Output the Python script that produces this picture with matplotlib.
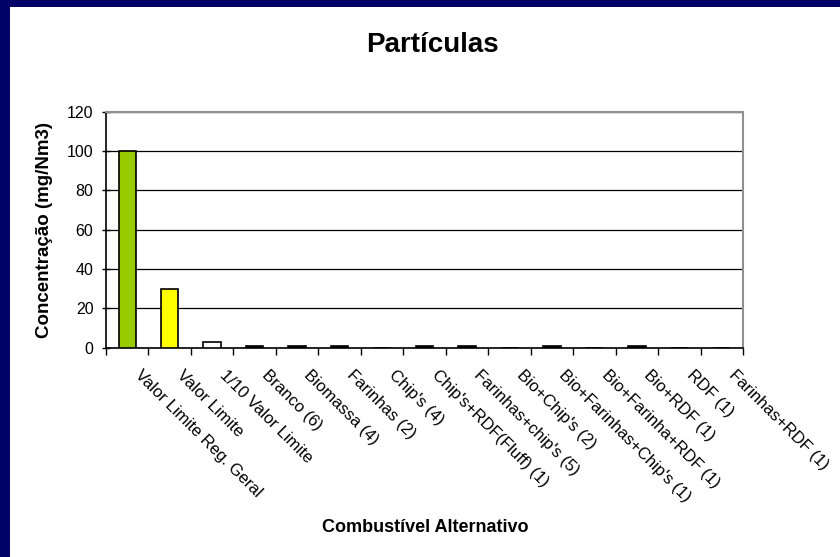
import numpy as np
import matplotlib
matplotlib.use('Agg')
import matplotlib.pyplot as plt
import matplotlib.transforms as mtransforms
from matplotlib.patches import Rectangle

plt.rcParams['font.family'] = ['Liberation Sans', 'DejaVu Sans']

# Partículas por combustível alternativo
categorias = ['Valor Limite Reg. Geral', 'Valor Limite', '1/10 Valor Limite',
              'Branco (6)', 'Biomassa (4)', 'Farinhas (2)', "Chip's (4)",
              "Chip's+RDF(Fluff) (1)", "Farinhas+chip's (5)", "Bio+Chip's (2)",
              "Bio+Farinhas+Chip's (1)", 'Bio+Farinha+RDF (1)', 'Bio+RDF (1)',
              'RDF (1)', 'Farinhas+RDF (1)']
concentracao = [100, 30, 3, 1, 1, 1, 0, 1, 1, 0, 1, 0, 1, 0, 0]
cores = ['#99CC00', '#FFFF00', 'white'] + ['black'] * 12

fig = plt.figure(figsize=(8.4, 5.57), dpi=100)
fig.patch.set_facecolor('#000066')
# fundo branco (moldura azul só em cima e à esquerda)
fig.patches.append(Rectangle((10 / 840, 0), 1, 1 - 7 / 557, transform=fig.transFigure,
                             facecolor='white', edgecolor='none', zorder=-10))

ax = fig.add_axes([106 / 840, 1 - 347.7 / 557, 637 / 840, 236 / 557])
ax.set_zorder(5)
x = np.arange(len(categorias))
ax.bar(x, concentracao, width=0.41, color=cores, edgecolor='black', linewidth=1.2, zorder=3)

ax.set_xlim(-0.5, len(categorias) - 0.5)
ax.set_ylim(0, 120)
ax.set_yticks(np.arange(0, 121, 20))
ax.yaxis.grid(True, color='black', linewidth=0.9)
ax.set_axisbelow(True)

# ticks nas fronteiras das categorias
ax.set_xticks(np.arange(-0.5, len(categorias)))
ax.set_xticklabels([])
ax.tick_params(axis='x', length=5, direction='out', width=1)
ax.tick_params(axis='y', length=6, direction='inout', width=1, labelsize=11.5, pad=6)

# rótulos das categorias a 45 graus, a partir do centro de cada categoria
base = mtransforms.blended_transform_factory(ax.transData, ax.transAxes)
desloc = mtransforms.ScaledTranslation(15 / 100, -20 / 100, fig.dpi_scale_trans)
for i, nome in enumerate(categorias):
    ax.text(i, 0, nome, transform=base + desloc, rotation=-45, ha='left', va='top',
            rotation_mode='anchor', fontsize=12, clip_on=False)

for s in ['top', 'right']:
    ax.spines[s].set_color('#909090')
    ax.spines[s].set_linewidth(1.5)
for s in ['left', 'bottom']:
    ax.spines[s].set_color('black')
    ax.spines[s].set_linewidth(1.2)

fig.text(432 / 840, 1 - 45 / 557, 'Partículas', ha='center', va='center',
         fontsize=20, fontweight='bold')
fig.text(45 / 840, 1 - 230 / 557, 'Concentração (mg/Nm3)', rotation=90,
         ha='center', va='center', fontsize=13.5, fontweight='bold')
fig.text(425 / 840, 1 - 527 / 557, 'Combustível Alternativo', ha='center',
         va='center', fontsize=13, fontweight='bold')

fig.savefig('out.png', dpi=100, facecolor=fig.get_facecolor())
